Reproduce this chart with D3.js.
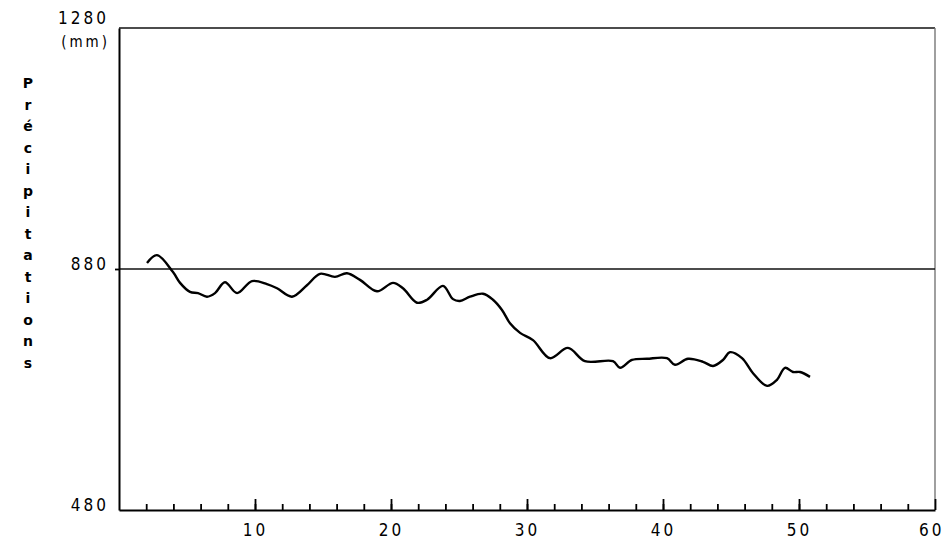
<!DOCTYPE html>
<html>
<head>
  <meta charset="utf-8">
  <title>Précipitations</title>
  <script src="https://d3js.org/d3.v7.min.js"></script>
  <style>
    body { margin: 0; background: #fff; }
    .axis text {
      font-family: "DejaVu Sans Condensed", "DejaVu Sans", sans-serif;
      font-size: 17px;
      letter-spacing: 3px;
      fill: #000;
    }
    .axis line { stroke: #000; stroke-width: 1.8; }
    .axis path { stroke: #000; stroke-width: 2; }
  </style>
</head>
<body>
<script>

  // chart size
  var w = 944;
  var h = 545;
  var margin = {top: 28, right: 9, bottom: 35, left: 119};

  // values (years, rainfall in mm)
  var years = [2.06, 2.79, 3.97, 4.49, 5.22, 5.81, 6.47, 7.06, 7.79, 8.68,
               9.78, 10.88, 11.62, 12.72, 13.82, 14.78, 15.88, 16.76, 17.72, 18.97,
               20.15, 20.88, 21.91, 22.65, 23.82, 24.56, 25.07, 25.81, 26.76, 27.5,
               28.16, 28.75, 29.49, 30.44, 31.69, 33.01, 34.26, 36.32, 36.84, 37.72,
               38.82, 40.29, 40.88, 41.84, 42.94, 43.68, 44.41, 44.93, 45.81, 46.62,
               47.65, 48.38, 48.97, 49.56, 50.07, 50.81];
  var rain = [890, 903, 875, 857, 842, 840, 834, 840, 858, 840,
              860, 855, 848, 834, 853, 872, 867, 873, 862, 843,
              857, 848, 824, 829, 852, 830, 827, 834, 839, 829,
              812, 790, 774, 762, 732, 749, 727, 727, 716, 729,
              731, 732, 721, 731, 726, 719, 729, 742, 732, 707,
              686, 696, 716, 709, 709, 701];

  var xMajor = [10, 20, 30, 40, 50, 60];
  var xMinor = d3.range(2, 60, 2);
  var yTicks = [480, 880, 1280];
  var yTitle = ["P", "r", "é", "c", "i", "p", "i", "t", "a", "t", "i", "o", "n", "s"];

  var svg = d3.select("body")
    .append("svg")
    .attr("width", w)
    .attr("height", h);

  var xScale = d3.scaleLinear()
    .domain([0, 60])
    .range([margin.left, w - margin.right]);

  var yScale = d3.scaleLinear()
    .domain([480, 1280])
    .range([h - margin.bottom, margin.top]);

  // frame: top line and right edge
  svg.append("line")
    .attr("x1", xScale(0)).attr("x2", xScale(60))
    .attr("y1", yScale(1280)).attr("y2", yScale(1280))
    .attr("stroke", "#111").attr("stroke-width", 1.6);

  svg.append("line")
    .attr("x1", xScale(60)).attr("x2", xScale(60))
    .attr("y1", yScale(1280)).attr("y2", yScale(480))
    .attr("stroke", "#777").attr("stroke-width", 1.4);

  // reference line at 880 mm
  svg.append("line")
    .attr("x1", xScale(0)).attr("x2", xScale(60))
    .attr("y1", yScale(880)).attr("y2", yScale(880))
    .attr("stroke", "#111").attr("stroke-width", 1.6);

  // minor ticks on x (pointing up into the plot)
  var minorG = svg.append("g")
    .attr("class", "axis")
    .attr("transform", "translate(0," + yScale(480) + ")")
    .call(d3.axisBottom(xScale).tickValues(xMinor).tickSizeInner(-6).tickSizeOuter(0).tickFormat(function() { return ""; }));
  minorG.select(".domain").remove();

  // major ticks + labels on x
  var xAxisG = svg.append("g")
    .attr("class", "axis")
    .attr("transform", "translate(0," + yScale(480) + ")")
    .call(d3.axisBottom(xScale).tickValues(xMajor).tickSizeInner(-11).tickSizeOuter(0).tickPadding(14).tickFormat(d3.format("d")));

  // last label sits at the page edge
  xAxisG.selectAll(".tick text")
    .filter(function(d) { return d == 60; })
    .attr("text-anchor", "end")
    .attr("dx", "9px");

  // y axis
  var yAxisG = svg.append("g")
    .attr("class", "axis")
    .attr("transform", "translate(" + xScale(0) + ",0)")
    .call(d3.axisLeft(yScale).tickValues(yTicks).tickSize(4).tickSizeOuter(0).tickPadding(6).tickFormat(d3.format("d")));

  yAxisG.selectAll(".tick text").attr("dy", "0em");
  yAxisG.selectAll(".tick text").filter(function(d) { return d == 1280; }).attr("dy", "-0.25em");
  yAxisG.selectAll(".tick line").filter(function(d) { return d != 880; }).remove();

  // unit under the top label
  svg.append("text")
    .attr("x", 110)
    .attr("y", yScale(1280) + 19)
    .attr("text-anchor", "end")
    .attr("font-family", "DejaVu Sans Condensed, DejaVu Sans, sans-serif")
    .attr("font-size", "15px")
    .attr("letter-spacing", "3px")
    .text("(mm)");

  // stacked vertical title
  svg.selectAll(".ytitle")
    .data(yTitle)
    .enter()
    .append("text")
    .attr("class", "ytitle")
    .attr("x", 28)
    .attr("y", function(d, i) { return 88 + i * 21.5; })
    .attr("text-anchor", "middle")
    .attr("font-family", "DejaVu Sans, sans-serif")
    .attr("font-weight", "bold")
    .attr("font-size", "14px")
    .text(function(d) { return d; });

  // the rainfall curve
  var line = d3.line()
    .x(function(d, i) { return xScale(years[i]); })
    .y(function(d) { return yScale(d); })
    .curve(d3.curveCatmullRom.alpha(0.5));

  svg.append("path")
    .datum(rain)
    .attr("d", line)
    .attr("fill", "none")
    .attr("stroke", "#000")
    .attr("stroke-width", 2.4)
    .attr("stroke-linejoin", "round");

</script>
</body>
</html>
